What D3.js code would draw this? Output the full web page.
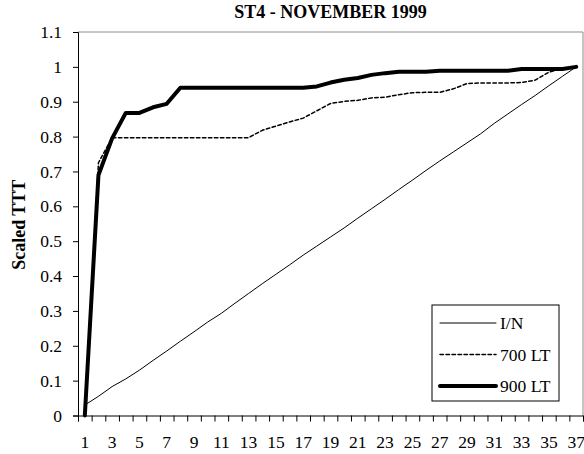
<!DOCTYPE html>
<html>
<head>
<meta charset="utf-8">
<script src="https://cdn.jsdelivr.net/npm/d3@7"></script>
<style>
  body { margin: 0; background: #fff; }
  svg { display: block; font-family: "Liberation Serif", "Times New Roman", serif; }
</style>
</head>
<body>
<svg width="584" height="454"></svg>
<script>
// categories along the x axis (1..37)
let cats = d3.range(1, 38);
let xLabels = cats.filter(function(d) { return d % 2 === 1; });
let yTicks = [0, 0.1, 0.2, 0.3, 0.4, 0.5, 0.6, 0.7, 0.8, 0.9, 1, 1.1];

// series
let inValues = [0.03, 0.055, 0.083, 0.105, 0.13, 0.158, 0.185, 0.213, 0.24, 0.268,
  0.293, 0.322, 0.35, 0.378, 0.405, 0.432, 0.46, 0.486, 0.512, 0.538,
  0.566, 0.593, 0.62, 0.648, 0.675, 0.703, 0.73, 0.756, 0.782, 0.808,
  0.838, 0.865, 0.892, 0.918, 0.946, 0.973, 1.0];
let lt700Values = [0, 0.725, 0.797, 0.797, 0.797, 0.797, 0.797, 0.797, 0.797, 0.797,
  0.797, 0.797, 0.797, 0.818, 0.83, 0.842, 0.853, 0.874, 0.895, 0.901,
  0.904, 0.911, 0.913, 0.92, 0.926, 0.927, 0.927, 0.937, 0.952, 0.954,
  0.954, 0.954, 0.955, 0.962, 0.985, 0.995, 1.0];
let lt900Values = [0, 0.69, 0.795, 0.868, 0.868, 0.884, 0.894, 0.94, 0.94, 0.94,
  0.94, 0.94, 0.94, 0.94, 0.94, 0.94, 0.94, 0.944, 0.955, 0.963,
  0.968, 0.977, 0.982, 0.986, 0.986, 0.986, 0.989, 0.989, 0.989, 0.989,
  0.989, 0.989, 0.994, 0.994, 0.994, 0.994, 1.0];

let seriesNames = ["I/N", "700 LT", "900 LT"];

let series = [
  { name: seriesNames[0], values: inValues, width: 1, dash: null },
  { name: seriesNames[1], values: lt700Values, width: 1.5, dash: "3.5,2.5" },
  { name: seriesNames[2], values: lt900Values, width: 4, dash: null }
];

let svg = d3.select("svg");
let plotLeft = 78, plotRight = 583, plotTop = 32, plotBottom = 415.5;

let x = d3.scaleBand().domain(cats).range([plotLeft, plotRight]);
let xEdge = d3.scaleLinear().domain([0, cats.length]).range([plotLeft, plotRight]);
let y = d3.scaleLinear().domain([0, 1.1]).range([plotBottom, plotTop]);

// plot area frame (top and right in grey)
svg.append("path")
  .attr("d", "M" + plotLeft + "," + plotTop + "H" + plotRight + "V" + plotBottom)
  .attr("fill", "none")
  .attr("stroke", "#8c8c8c")
  .attr("stroke-width", 1);

// y axis
let yAxis = svg.append("g")
  .attr("transform", "translate(" + plotLeft + ",0)")
  .call(d3.axisLeft(y).tickValues(yTicks).tickSize(5).tickPadding(11)
    .tickFormat(function(d) { return String(+d.toFixed(1)); }));
yAxis.selectAll("text").attr("font-size", 17.5).attr("fill", "#000");
yAxis.attr("font-family", null);

// x axis: tick marks at category boundaries
let xTickAxis = svg.append("g")
  .attr("transform", "translate(0," + plotBottom + ")")
  .call(d3.axisBottom(xEdge).ticks(cats.length).tickSize(6).tickFormat(""));
xTickAxis.attr("font-family", null);

// x axis labels on odd categories
let xLabAxis = svg.append("g")
  .attr("transform", "translate(0," + plotBottom + ")")
  .call(d3.axisBottom(x).tickValues(xLabels).tickSize(0).tickPadding(20));
xLabAxis.select(".domain").remove();
xLabAxis.selectAll("text").attr("font-size", 17.5).attr("fill", "#000");
xLabAxis.attr("font-family", null);

// lines
let line = d3.line()
  .x(function(d, i) { return x(cats[i]) + x.bandwidth() / 2; })
  .y(function(d) { return y(d); });

svg.selectAll(".series")
  .data(series)
  .enter()
  .append("path")
    .attr("class", "series")
    .attr("d", function(d) { return line(d.values); })
    .attr("fill", "none")
    .attr("stroke", "#000")
    .attr("stroke-width", function(d) { return d.width; })
    .attr("stroke-dasharray", function(d) { return d.dash; })
    .attr("stroke-linejoin", "round")
    .attr("stroke-linecap", "round");

// title
svg.append("text")
  .attr("x", (plotLeft + plotRight) / 2)
  .attr("y", 17.5)
  .attr("text-anchor", "middle")
  .attr("font-size", 18)
  .attr("font-weight", "bold")
  .text("ST4 - NOVEMBER 1999");

// y axis title
svg.append("text")
  .attr("transform", "translate(25," + ((plotTop + plotBottom) / 2 + 1) + ") rotate(-90)")
  .attr("text-anchor", "middle")
  .attr("font-size", 18)
  .attr("font-weight", "bold")
  .text("Scaled TTT");

// legend
let legend = svg.append("g").attr("transform", "translate(432,305)");
legend.append("rect")
  .attr("width", 127).attr("height", 96)
  .attr("fill", "#fff").attr("stroke", "#000").attr("stroke-width", 1);

let rows = legend.selectAll(".row")
  .data(series)
  .enter()
  .append("g")
    .attr("class", "row")
    .attr("transform", function(d, i) { return "translate(0," + (18 + i * 31.5) + ")"; });

rows.append("line")
  .attr("x1", 8).attr("x2", 64)
  .attr("stroke", "#000")
  .attr("stroke-width", function(d) { return d.width; })
  .attr("stroke-dasharray", function(d) { return d.dash; })
  .attr("stroke-linecap", "round");

rows.append("text")
  .attr("x", 68)
  .attr("dy", "0.35em")
  .attr("font-size", 17.5)
  .text(function(d) { return d.name; });
</script>
</body>
</html>
